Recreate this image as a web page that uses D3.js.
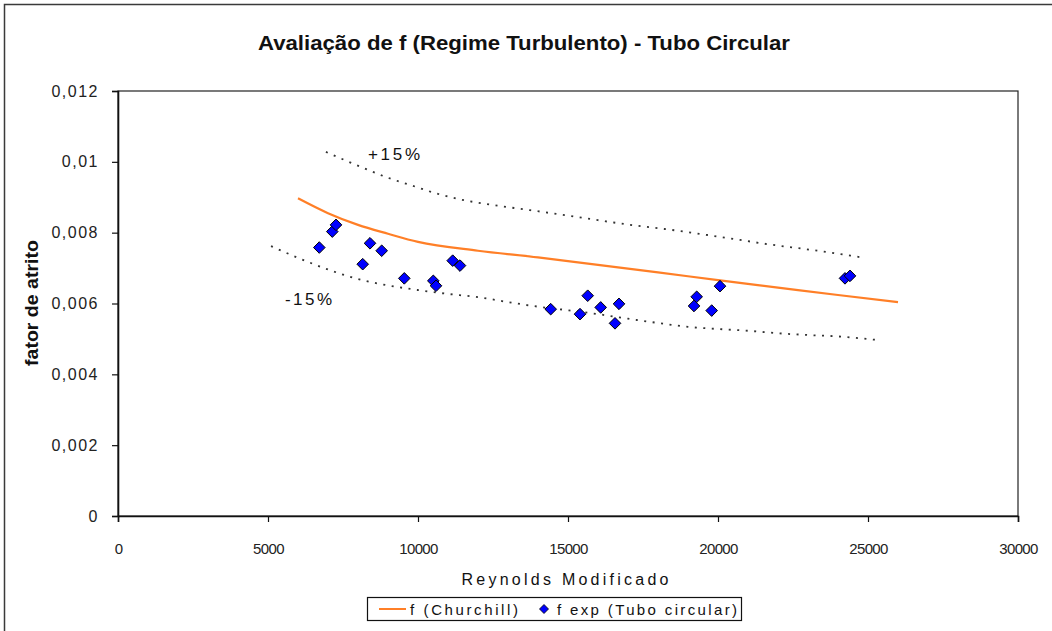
<!DOCTYPE html>
<html>
<head>
<meta charset="utf-8">
<script src="https://cdn.jsdelivr.net/npm/d3@7"></script>
<style>
  html, body { margin: 0; padding: 0; background: #fff; }
  svg { display: block; font-family: "Liberation Sans", Arial, sans-serif; }
</style>
</head>
<body>
<svg id="chart" width="1052" height="631"></svg>
<script>
// Curva de Churchill (fator de atrito de Fanning)
const churchillRe = [6000, 7000, 8000, 9000, 10000, 12000, 14000, 16000, 18000, 20000, 22000, 24000, 26000];
const churchillF  = [0.00897, 0.00855, 0.00822, 0.00797, 0.00774, 0.00749, 0.00730, 0.00709, 0.00688, 0.00666, 0.00645, 0.00624, 0.00604];

// Faixa +15%
const upperRe = [6930, 8200, 9000, 9800, 10600, 11400, 12500, 13700, 15000, 17000, 18700, 20000, 21700, 23400, 24800];
const upperF  = [0.01028, 0.00982, 0.00955, 0.00933, 0.00911, 0.00894, 0.00878, 0.00864, 0.00848, 0.00823, 0.00805, 0.00789, 0.00767, 0.00748, 0.00730];

// Faixa -15%
const lowerRe = [5100, 6000, 7000, 8000, 9000, 10000, 11000, 12000, 13000, 14000, 15000, 16000, 17000, 18000, 19000, 20000, 21000, 22000, 23000, 24000, 25300];
const lowerF  = [0.00762, 0.00729, 0.00696, 0.00669, 0.00651, 0.00638, 0.00627, 0.00618, 0.00604, 0.00591, 0.00581, 0.00570, 0.00557, 0.00545, 0.00534, 0.00528, 0.00523, 0.00516, 0.00511, 0.00507, 0.00497];

// Pontos experimentais (tubo circular)
const expRe = [6710, 7143, 7267, 8157, 8400, 8790, 9543, 10510, 10600, 11157, 11400, 14423, 15400, 15657, 16090, 16567, 16700, 19200, 19290, 19790, 20067, 24233, 24400];
const expF  = [0.00758, 0.00803, 0.00822, 0.00711, 0.00770, 0.00749, 0.00671, 0.00664, 0.00650, 0.00721, 0.00707, 0.00584, 0.00570, 0.00622, 0.00589, 0.00544, 0.00599, 0.00593, 0.00619, 0.00580, 0.00649, 0.00671, 0.00678];

const xTicks = [0, 5000, 10000, 15000, 20000, 25000, 30000];
const yTicks = [0, 0.002, 0.004, 0.006, 0.008, 0.01, 0.012];
const yTickLabels = ["0", "0,002", "0,004", "0,006", "0,008", "0,01", "0,012"];

const titleText = "Avaliação de f (Regime Turbulento) - Tubo Circular";
const xTitle = "Reynolds Modificado";
const yTitle = "fator de atrito";
const legendLabels = ["f (Churchill)", "f exp (Tubo circular)"];

const svg = d3.select("#chart");
const plot = { left: 118, top: 91, right: 1018, bottom: 516 };

const x = d3.scaleLinear().domain([0, 30000]).range([plot.left, plot.right]);
const y = d3.scaleLinear().domain([0, 0.012]).range([plot.bottom, plot.top]);

// moldura externa
svg.append("rect")
  .attr("x", 4.5).attr("y", 4.5)
  .attr("width", 1100).attr("height", 700)
  .attr("fill", "#fff").attr("stroke", "#3a3a3a").attr("stroke-width", 1.5);

// área do gráfico
svg.append("rect")
  .attr("x", plot.left).attr("y", plot.top)
  .attr("width", plot.right - plot.left).attr("height", plot.bottom - plot.top)
  .attr("fill", "#fff").attr("stroke", "#222").attr("stroke-width", 1.2);

// título
svg.append("text")
  .attr("x", 524).attr("y", 50)
  .attr("text-anchor", "middle")
  .attr("font-size", 20).attr("font-weight", "bold").attr("fill", "#111")
  .attr("textLength", 532).attr("lengthAdjust", "spacingAndGlyphs")
  .text(titleText);

// eixo X
const xAxis = svg.append("g")
  .attr("transform", `translate(0,${plot.bottom})`)
  .call(d3.axisBottom(x).tickValues(xTicks).tickSize(6).tickPadding(21).tickFormat(d3.format("d")));
xAxis.select(".domain").attr("stroke", "#111").attr("stroke-width", 1.6);
xAxis.selectAll(".tick line").attr("stroke", "#111").attr("stroke-width", 1.2);
xAxis.selectAll(".tick text")
  .attr("font-size", 15).attr("fill", "#222")
  .attr("letter-spacing", -0.6)
  .attr("font-family", "'Liberation Sans', Arial, sans-serif");

// eixo Y
const yAxis = svg.append("g")
  .attr("transform", `translate(${plot.left},0)`)
  .call(d3.axisLeft(y).tickValues(yTicks).tickSize(6).tickPadding(13)
    .tickFormat((d, i) => yTickLabels[i]));
yAxis.select(".domain").attr("stroke", "#111").attr("stroke-width", 1.6);
yAxis.selectAll(".tick line").attr("stroke", "#111").attr("stroke-width", 1.2);
yAxis.selectAll(".tick text")
  .attr("font-size", 16).attr("fill", "#222")
  .attr("letter-spacing", 1.5)
  .attr("font-family", "'Liberation Sans', Arial, sans-serif");

// títulos dos eixos
svg.append("text")
  .attr("x", 565).attr("y", 585)
  .attr("text-anchor", "middle")
  .attr("font-size", 16).attr("fill", "#111")
  .attr("textLength", 207).attr("lengthAdjust", "spacing")
  .text(xTitle);

svg.append("text")
  .attr("transform", "translate(38,303) rotate(-90)")
  .attr("text-anchor", "middle")
  .attr("font-size", 18).attr("font-weight", "bold").attr("fill", "#111")
  .attr("textLength", 126).attr("lengthAdjust", "spacingAndGlyphs")
  .text(yTitle);

const line = d3.line()
  .x(d => x(d[0]))
  .y(d => y(d[1]))
  .curve(d3.curveMonotoneX);

// faixas de ±15%
[[upperRe, upperF], [lowerRe, lowerF]].forEach(([re, f]) => {
  svg.append("path")
    .datum(re.map((r, i) => [r, f[i]]))
    .attr("d", line)
    .attr("fill", "none")
    .attr("stroke", "#333")
    .attr("stroke-width", 1.8)
    .attr("stroke-dasharray", "2,6.5");
});

// curva de Churchill
svg.append("path")
  .datum(churchillRe.map((r, i) => [r, churchillF[i]]))
  .attr("d", line)
  .attr("fill", "none")
  .attr("stroke", "#ff7f27")
  .attr("stroke-width", 2.2);

// pontos experimentais
const diamond = r => `M0,${-r}L${r},0L0,${r}L${-r},0Z`;
svg.append("g").selectAll("path")
  .data(expRe.map((r, i) => [r, expF[i]]))
  .join("path")
  .attr("transform", d => `translate(${x(d[0])},${y(d[1])})`)
  .attr("d", diamond(5.8))
  .attr("fill", "#0000ff")
  .attr("stroke", "#000")
  .attr("stroke-width", 1);

// rótulos das faixas
svg.append("text")
  .attr("x", 368).attr("y", 160)
  .attr("font-size", 17).attr("fill", "#111")
  .attr("textLength", 52).attr("lengthAdjust", "spacing")
  .text("+15%");
svg.append("text")
  .attr("x", 285).attr("y", 305)
  .attr("font-size", 17).attr("fill", "#111")
  .attr("textLength", 47).attr("lengthAdjust", "spacing")
  .text("-15%");

// legenda
const lg = svg.append("g");
lg.append("rect")
  .attr("x", 367.5).attr("y", 597.5)
  .attr("width", 374).attr("height", 23)
  .attr("fill", "#fff").attr("stroke", "#111").attr("stroke-width", 1.2);
lg.append("line")
  .attr("x1", 379).attr("x2", 406)
  .attr("y1", 609).attr("y2", 609)
  .attr("stroke", "#ff7f27").attr("stroke-width", 2);
lg.append("text")
  .attr("x", 410).attr("y", 615)
  .attr("font-size", 15).attr("fill", "#111")
  .attr("textLength", 108).attr("lengthAdjust", "spacing")
  .text(legendLabels[0]);
lg.append("path")
  .attr("transform", "translate(544,609)")
  .attr("d", diamond(4.5))
  .attr("fill", "#0000ff").attr("stroke", "#000").attr("stroke-width", 0.8);
lg.append("text")
  .attr("x", 557).attr("y", 615)
  .attr("font-size", 15).attr("fill", "#111")
  .attr("textLength", 180).attr("lengthAdjust", "spacing")
  .text(legendLabels[1]);
</script>
</body>
</html>
